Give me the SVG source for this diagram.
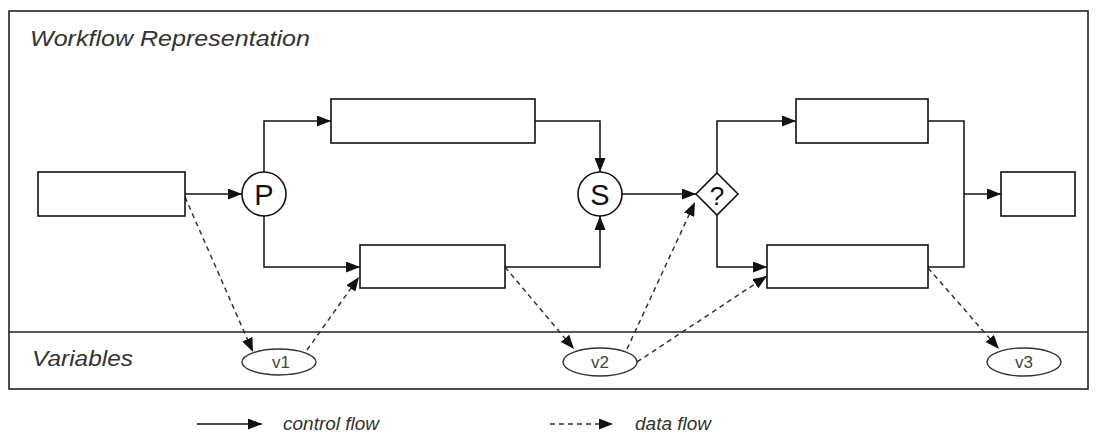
<svg xmlns="http://www.w3.org/2000/svg" width="1096" height="444" viewBox="0 0 1096 444">
<style>
.frame{fill:none;stroke:#222;stroke-width:1.6}
.box{fill:#fff;stroke:#111;stroke-width:1.6}
.ell{fill:#fff;stroke:#333;stroke-width:1.4}
.cf{fill:none;stroke:#111;stroke-width:1.5}
.df{fill:none;stroke:#333;stroke-width:1.5;stroke-dasharray:5,4}
.lbl{font-family:"Liberation Sans",Arial,sans-serif;font-style:italic;fill:#333}
.sym{font-family:"Liberation Sans",Arial,sans-serif;fill:#111;text-anchor:middle}
.var{font-family:"Liberation Sans",Arial,sans-serif;fill:#444;text-anchor:middle;font-size:17px}
</style>
<defs>
<marker id="ah" viewBox="0 0 14 11" refX="14" refY="5.5" markerWidth="14" markerHeight="11" markerUnits="userSpaceOnUse" orient="auto">
<path d="M0,0 L14,5.5 L0,11 Z" fill="#111"/>
</marker>
</defs>
<rect width="1096" height="444" fill="#fff"/>
<g id="frame">
<rect class="frame" x="9" y="11" width="1079" height="378"/>
<line class="frame" x1="9" y1="332" x2="1088" y2="332"/>
<text class="lbl" x="30" y="46" font-size="22" textLength="280" lengthAdjust="spacingAndGlyphs">Workflow Representation</text>
<text class="lbl" x="32" y="366" font-size="22" textLength="101" lengthAdjust="spacingAndGlyphs">Variables</text>
</g>
<g id="connectors">
<path class="cf" d="M185,194 H242" marker-end="url(#ah)"/>
<path class="cf" d="M264,172 V121 H331" marker-end="url(#ah)"/>
<path class="cf" d="M264,216 V267 H360" marker-end="url(#ah)"/>
<path class="cf" d="M535,121 H600 V172" marker-end="url(#ah)"/>
<path class="cf" d="M505,267 H600 V216" marker-end="url(#ah)"/>
<path class="cf" d="M622,194 H696" marker-end="url(#ah)"/>
<path class="cf" d="M717,174 V121 H796" marker-end="url(#ah)"/>
<path class="cf" d="M717,215 V267 H767" marker-end="url(#ah)"/>
<path class="cf" d="M928,121 H964 V267 H928"/>
<path class="cf" d="M964,194 H1001" marker-end="url(#ah)"/>
<path class="df" d="M185,197 L253,352" marker-end="url(#ah)"/>
<path class="df" d="M307,350 L359,277" marker-end="url(#ah)"/>
<path class="df" d="M505,267 L574,349" marker-end="url(#ah)"/>
<path class="df" d="M627,349 L695,202" marker-end="url(#ah)"/>
<path class="df" d="M637,362 L767,276" marker-end="url(#ah)"/>
<path class="df" d="M928,268 L999,349" marker-end="url(#ah)"/>
</g>
<g id="n-start"><rect class="box" x="38" y="172" width="147" height="44"/></g>
<g id="n-p"><circle class="box" cx="264" cy="194" r="22"/><text class="sym" x="264" y="205" font-size="29">P</text></g>
<g id="n-top1"><rect class="box" x="331" y="99" width="204" height="44"/></g>
<g id="n-bot1"><rect class="box" x="360" y="245" width="145" height="43"/></g>
<g id="n-s"><circle class="box" cx="600" cy="194" r="22"/><text class="sym" x="600" y="205" font-size="29">S</text></g>
<g id="n-q"><path class="box" d="M717,173 L738,194 L717,215 L696,194 Z"/><text class="sym" x="717" y="205" font-size="26">?</text></g>
<g id="n-top2"><rect class="box" x="796" y="99" width="132" height="44"/></g>
<g id="n-bot2"><rect class="box" x="767" y="245" width="161" height="43"/></g>
<g id="n-end"><rect class="box" x="1001" y="172" width="74" height="44"/></g>
<g id="v1"><ellipse class="ell" cx="279" cy="362" rx="37" ry="13"/><text class="var" x="281" y="368">v1</text></g>
<g id="v2"><ellipse class="ell" cx="600" cy="362" rx="37" ry="14"/><text class="var" x="600" y="368">v2</text></g>
<g id="v3"><ellipse class="ell" cx="1024" cy="362" rx="37" ry="14"/><text class="var" x="1024" y="368">v3</text></g>
<g id="legend">
<path class="cf" d="M197,424 H262" marker-end="url(#ah)"/>
<text class="lbl" x="283" y="430" font-size="19">control flow</text>
<path class="df" d="M550,424 H613" marker-end="url(#ah)"/>
<text class="lbl" x="635" y="430" font-size="19">data flow</text>
</g>
</svg>
